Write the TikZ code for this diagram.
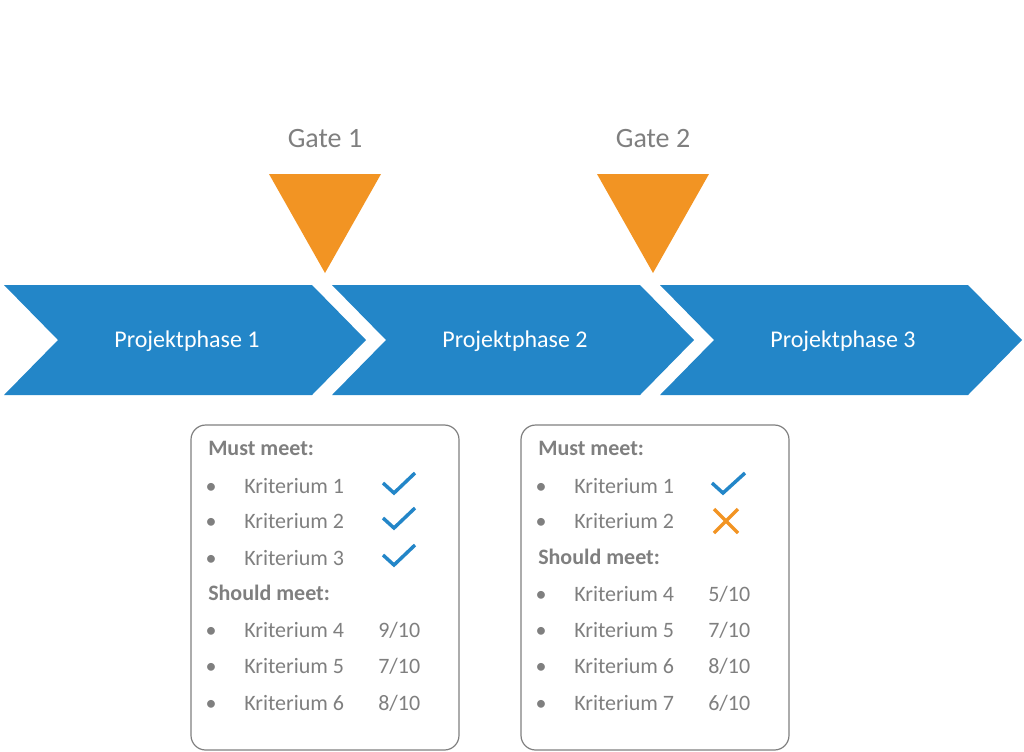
\documentclass[tikz,border=0pt]{standalone}
\usepackage{fontspec}
\setmainfont{Carlito}
\definecolor{phaseblue}{HTML}{2386C8}
\definecolor{gateorange}{HTML}{F29423}
\definecolor{txtgray}{HTML}{7F7F7F}

\begin{document}
\begin{tikzpicture}[
  x=0.75pt, y=-0.75pt,
  phase/.style={fill=phaseblue},
  phasetext/.style={text=white, anchor=base, font=\fontsize{18}{22}\selectfont},
  gate/.style={fill=gateorange},
  gatetext/.style={text=txtgray, anchor=base, font=\fontsize{21}{25}\selectfont},
  critbox/.style={draw=txtgray, line width=0.9pt, rounded corners=11pt,
    minimum width=201pt, minimum height=243.75pt},
  crithead/.style={text=txtgray, anchor=base west, inner sep=0pt, font=\fontsize{16.5}{20}\selectfont\bfseries},
  crit/.style={text=txtgray, anchor=base west, inner sep=0pt, font=\fontsize{16.5}{20}\selectfont},
  bullet/.style={text=txtgray, anchor=base, inner sep=0pt, font=\fontsize{16.5}{20}\selectfont},
  tick/.style={draw=phaseblue, line width=2.6pt},
  cross/.style={draw=gateorange, line width=2.6pt}
]
\useasboundingbox (0,0) rectangle (1024,751);

% Phase chevrons
\foreach \i in {0,1,2}
  \fill[phase, xshift=246*\i] (4,285) -- (312,285) -- (366,340) -- (312,395) -- (4,395) -- (58,340) -- cycle;
\node[phasetext] (ph1) at (187,347) {Projektphase 1};
\node[phasetext] (ph2) at (515,347) {Projektphase 2};
\node[phasetext] (ph3) at (843,347) {Projektphase 3};

% Gates
\fill[gate] (269,174) -- (381,174) -- (325,273) -- cycle;
\fill[gate] (597,174) -- (709,174) -- (653,273) -- cycle;
\node[gatetext] (g1) at (325,147) {Gate 1};
\node[gatetext] (g2) at (653,147) {Gate 2};

% Criteria box Gate 1
\node[critbox] (box1) at (325,587.5) {};
\node[crithead] (b1must) at (208,455) {Must meet:};
\node[bullet] at (211,493) {•}; \node[crit] (b1k1) at (244,493) {Kriterium 1};
\node[bullet] at (211,528) {•}; \node[crit] (b1k2) at (244,528) {Kriterium 2};
\node[bullet] at (211,565) {•}; \node[crit] (b1k3) at (244,565) {Kriterium 3};
\node[crithead] (b1should) at (208,600) {Should meet:};
\node[bullet] at (211,637) {•}; \node[crit] (b1k4) at (244,637) {Kriterium 4};
\node[bullet] at (211,673) {•}; \node[crit] (b1k5) at (244,673) {Kriterium 5};
\node[bullet] at (211,710) {•}; \node[crit] (b1k6) at (244,710) {Kriterium 6};
\node[crit] (b1s4) at (378,637) {9/10};
\node[crit] (b1s5) at (378,673) {7/10};
\node[crit] (b1s6) at (378,710) {8/10};
\draw[tick] (383,483) -- (394,493) -- (415,473);
\draw[tick] (383,518) -- (394,528) -- (415,508);
\draw[tick] (383,555) -- (394,565) -- (415,545);

% Criteria box Gate 2
\node[critbox] (box2) at (655,587.5) {};
\node[crithead] (b2must) at (538,455) {Must meet:};
\node[bullet] at (541,493) {•}; \node[crit] (b2k1) at (574,493) {Kriterium 1};
\node[bullet] at (541,528) {•}; \node[crit] (b2k2) at (574,528) {Kriterium 2};
\node[crithead] (b2should) at (538,564) {Should meet:};
\node[bullet] at (541,601) {•}; \node[crit] (b2k4) at (574,601) {Kriterium 4};
\node[bullet] at (541,637) {•}; \node[crit] (b2k5) at (574,637) {Kriterium 5};
\node[bullet] at (541,673) {•}; \node[crit] (b2k6) at (574,673) {Kriterium 6};
\node[bullet] at (541,710) {•}; \node[crit] (b2k7) at (574,710) {Kriterium 7};
\node[crit] (b2s4) at (708,601) {5/10};
\node[crit] (b2s5) at (708,637) {7/10};
\node[crit] (b2s6) at (708,673) {8/10};
\node[crit] (b2s7) at (708,710) {6/10};
\draw[tick] (712,483) -- (723,493) -- (745,473);
\draw[cross] (714,509) -- (738,533) (738,509) -- (714,533);

\end{tikzpicture}
\end{document}
